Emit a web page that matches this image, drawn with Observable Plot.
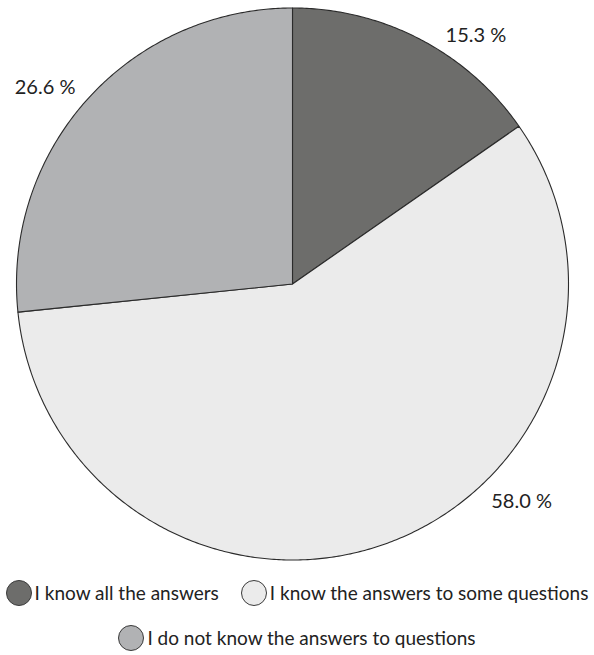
<!DOCTYPE html>
<html><head><meta charset="utf-8">
<script src="https://cdn.jsdelivr.net/npm/d3@7"></script>
<script src="https://cdn.jsdelivr.net/npm/@observablehq/plot@0.6"></script>
<style>
body{margin:0;background:#fff;font-family:Lato, sans-serif;}
#legend{width:594px;color:#222;font-size:19px;overflow:hidden}
.row{display:flex;justify-content:center;white-space:nowrap;height:45px;align-items:center}
.item{display:flex;align-items:center}
.item + .item{margin-left:22px}
.sw{width:26px;height:26px;border-radius:50%;border:1px solid #3a3a3a;box-sizing:border-box;margin-right:3px;flex:none}
</style></head><body>
<div id="chart"></div>
<div id="legend"></div>
<script>
// ---- data ----
const categories = ["I know all the answers", "I know the answers to some questions", "I do not know the answers to questions"];
const shares = [15.3, 58.0, 26.6];
const labels = ["15.3 %", "58.0 %", "26.6 %"];
const colors = ["#6d6d6b", "#ebebeb", "#b1b2b4"];

// ---- layout ----
const W = 594, H = 570, cx = 292, cy = 283.5, R = 276;
const labelNudge = [8.9, -26.1, -3.6];   // degrees, label angle adjustment
const labelDist = [1.118, 1.145, 1.145];  // radius multiples
const legendRows = [[0, 1], [2]];

const total = d3.sum(shares);
const slices = [];
const labelPts = [];
let start = 0;
shares.forEach((v, i) => {
  const a0 = start, a1 = start + v / total * 360;
  const pts = [{cat: categories[i], x: 0, y: 0}];
  const n = Math.max(2, Math.ceil((a1 - a0) / 0.5));
  for (let k = 0; k <= n; k++) {
    const a = (a0 + (a1 - a0) * k / n) * Math.PI / 180;
    pts.push({cat: categories[i], x: Math.sin(a), y: Math.cos(a)});
  }
  pts.push({cat: categories[i], x: 0, y: 0});
  slices.push(...pts);
  const am = ((a0 + a1) / 2 + labelNudge[i]) * Math.PI / 180;
  labelPts.push({label: labels[i], x: Math.sin(am) * labelDist[i], y: Math.cos(am) * labelDist[i]});
  start = a1;
});

const chart = Plot.plot({
  width: W, height: H,
  x: {domain: [-1, 1], range: [cx - R, cx + R], axis: null},
  y: {domain: [-1, 1], range: [cy + R, cy - R], axis: null},
  color: {domain: categories, range: colors},
  style: {fontFamily: "Lato, sans-serif", background: "#fff", overflow: "visible"},
  marks: [
    Plot.line(slices, {x: "x", y: "y", z: "cat", fill: "cat", stroke: "#2b2b2b", strokeWidth: 1.1, curve: "linear", strokeLinejoin: "round"}),
    Plot.text(labelPts, {x: "x", y: "y", text: "label", fontSize: 20, fill: "#222", textAnchor: "middle"})
  ]
});
document.getElementById("chart").appendChild(chart);

const color = Plot.scale({color: {domain: categories, range: colors}});
const leg = document.getElementById("legend");
legendRows.forEach(row => {
  const r = document.createElement("div");
  r.className = "row";
  row.forEach(i => {
    const it = document.createElement("div");
    it.className = "item";
    const sw = document.createElement("span");
    sw.className = "sw";
    sw.style.background = color.apply(categories[i]);
    const t = document.createElement("span");
    t.textContent = categories[i];
    it.appendChild(sw); it.appendChild(t);
    r.appendChild(it);
  });
  leg.appendChild(r);
});
</script>
</body></html>
